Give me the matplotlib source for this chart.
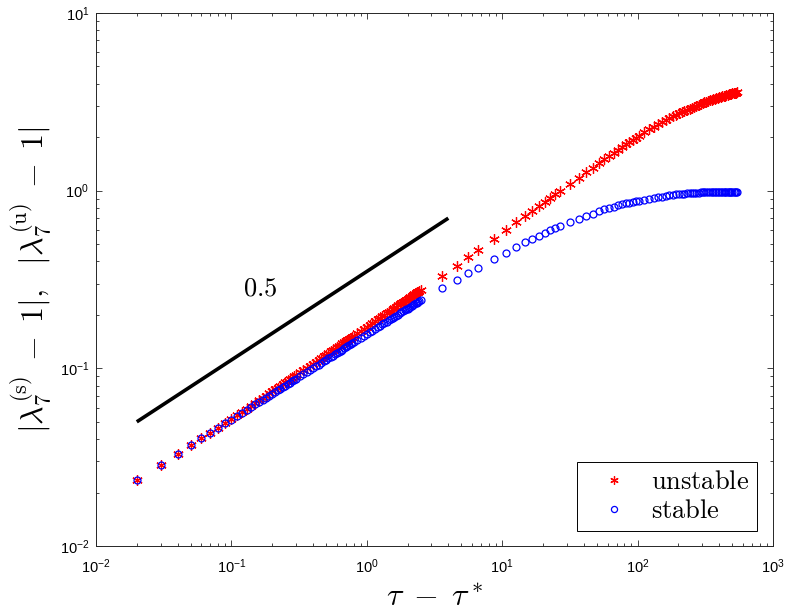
import matplotlib
matplotlib.use('Agg')
import matplotlib.pyplot as plt
from matplotlib.lines import Line2D
from matplotlib import ticker

plt.rcParams['font.family'] = ['Liberation Sans', 'DejaVu Sans']
plt.rcParams['mathtext.fontset'] = 'cm'

# tau - tau*
tau = [0.02, 0.03, 0.04, 0.05, 0.06, 0.07, 0.08, 0.09, 0.10,
       0.11, 0.12, 0.13, 0.14, 0.15, 0.16, 0.17, 0.18, 0.19, 0.20,
       0.21, 0.22, 0.23, 0.24, 0.25, 0.26, 0.27, 0.28, 0.29, 0.30,
       0.32, 0.34, 0.36, 0.38, 0.40, 0.42, 0.44, 0.46, 0.48, 0.50,
       0.52, 0.54, 0.56, 0.58, 0.60, 0.62, 0.64, 0.66, 0.68, 0.70,
       0.72, 0.74, 0.76, 0.78, 0.80,
       0.85, 0.90, 0.95, 1.00, 1.05, 1.10, 1.15, 1.20, 1.25, 1.30,
       1.35, 1.40, 1.45, 1.50, 1.55, 1.60, 1.65, 1.70, 1.75, 1.80,
       1.85, 1.90, 1.95, 2.00, 2.05, 2.10, 2.15, 2.20, 2.25, 2.30,
       2.35, 2.40, 2.45, 2.50,
       3.6, 4.6, 5.6, 6.6, 8.7, 10.7, 12.7, 14.7, 16.7, 18.7, 20.7, 22.7, 24.7, 26.8,
       31.8, 36.8, 41.8, 46.8, 51.8, 56.8, 61.8, 66.8, 71.8, 76.8, 81.8, 86.8, 91.8, 96.8, 101.8,
       111.8, 121.8, 131.8, 141.8, 151.8, 161.8, 171.8, 181.8, 191.8, 201.8,
       211.8, 221.8, 231.8, 241.8, 251.8, 261.8, 271.8, 281.8, 291.8, 301.8,
       311.8, 321.8, 331.8, 341.8, 351.8, 361.8, 371.8, 381.8, 391.8, 401.8,
       411.8, 421.8, 431.8, 441.8, 451.8, 461.8, 471.8, 481.8, 491.8, 501.8,
       511.8, 521.8, 531.8, 541.8]

# |lambda_7^(u) - 1|
unstable = [0.0236, 0.0287, 0.0331, 0.0369, 0.0403, 0.0434, 0.0464, 0.0491, 0.0518,
            0.0544, 0.0569, 0.0593, 0.0617, 0.0639, 0.0661, 0.0682, 0.0703, 0.0723, 0.0742,
            0.0761, 0.0780, 0.0798, 0.0816, 0.0834, 0.0851, 0.0868, 0.0884, 0.0900, 0.0916,
            0.0948, 0.0978, 0.1008, 0.1036, 0.1064, 0.1092, 0.1118, 0.1145, 0.1170, 0.1195,
            0.1220, 0.1244, 0.1268, 0.1291, 0.1314, 0.1337, 0.1359, 0.1381, 0.1402, 0.1424,
            0.1445, 0.1466, 0.1486, 0.1506, 0.1526,
            0.1575, 0.1623, 0.1669, 0.1714, 0.1758, 0.1801, 0.1843, 0.1884, 0.1925, 0.1964,
            0.2003, 0.2042, 0.2079, 0.2116, 0.2153, 0.2188, 0.2224, 0.2259, 0.2293, 0.2327,
            0.2360, 0.2393, 0.2426, 0.2458, 0.2489, 0.2521, 0.2552, 0.2583, 0.2613, 0.2643,
            0.2673, 0.2702, 0.2731, 0.2760,
            0.332, 0.379, 0.424, 0.465, 0.537, 0.600, 0.662, 0.716, 0.767, 0.821, 0.868, 0.915, 0.955, 0.996,
            1.093, 1.184, 1.269, 1.350, 1.427, 1.500, 1.571, 1.639, 1.704, 1.767, 1.827, 1.884, 1.938, 1.990, 2.038,
            2.131, 2.216, 2.295, 2.369, 2.438, 2.502, 2.562, 2.618, 2.672, 2.722,
            2.770, 2.815, 2.857, 2.898, 2.937, 2.975, 3.009, 3.043, 3.075, 3.107,
            3.136, 3.165, 3.191, 3.218, 3.243, 3.266, 3.290, 3.311, 3.334, 3.354,
            3.374, 3.393, 3.412, 3.429, 3.447, 3.463, 3.479, 3.495, 3.511, 3.524,
            3.539, 3.552, 3.565, 3.578]

# |lambda_7^(s) - 1|
stable = [0.0236, 0.0287, 0.0331, 0.0369, 0.0403, 0.0434, 0.0464, 0.0491, 0.0515,
          0.0540, 0.0563, 0.0585, 0.0606, 0.0626, 0.0646, 0.0665, 0.0683, 0.0701, 0.0719,
          0.0736, 0.0753, 0.0769, 0.0785, 0.0800, 0.0815, 0.0830, 0.0845, 0.0859, 0.0873,
          0.0901, 0.0927, 0.0953, 0.0978, 0.1003, 0.1026, 0.1050, 0.1072, 0.1094, 0.1116,
          0.1137, 0.1158, 0.1178, 0.1198, 0.1218, 0.1237, 0.1256, 0.1275, 0.1294, 0.1312,
          0.1330, 0.1347, 0.1364, 0.1382, 0.1398,
          0.1440, 0.1480, 0.1519, 0.1557, 0.1593, 0.1629, 0.1665, 0.1699, 0.1732, 0.1765,
          0.1798, 0.1829, 0.1860, 0.1891, 0.1921, 0.1951, 0.1980, 0.2008, 0.2036, 0.2064,
          0.2091, 0.2118, 0.2145, 0.2171, 0.2197, 0.2222, 0.2248, 0.2273, 0.2297, 0.2322,
          0.2346, 0.2370, 0.2393, 0.2417,
          0.283, 0.314, 0.342, 0.367, 0.411, 0.448, 0.481, 0.511, 0.535, 0.557, 0.577, 0.597, 0.615, 0.632,
          0.667, 0.696, 0.721, 0.743, 0.764, 0.784, 0.800, 0.814, 0.827, 0.838, 0.848, 0.857, 0.865, 0.872, 0.879,
          0.891, 0.902, 0.911, 0.919, 0.927, 0.935, 0.943, 0.948, 0.952, 0.956,
          0.960, 0.963, 0.966, 0.968, 0.970, 0.972, 0.974, 0.976, 0.978, 0.979,
          0.980, 0.981, 0.982, 0.982, 0.983, 0.983, 0.984, 0.984, 0.985, 0.985,
          0.985, 0.986, 0.986, 0.986, 0.986, 0.987, 0.987, 0.987, 0.988, 0.988,
          0.988, 0.988, 0.988, 0.988]

# slope-0.5 guide line
guide_x = [0.02, 4.0]
guide_y = [0.05, 0.70]

fig = plt.figure(figsize=(7.89, 6.12), dpi=100)
ax = fig.add_axes([0.1217, 0.1078, 0.858, 0.871])

asterisk = (6, 2, 0)
ax.plot(guide_x, guide_y, color='k', lw=2.6, solid_capstyle='butt')
ax.plot(tau, unstable, ls='none', marker=asterisk, mec='r', mfc='r', ms=7.6, mew=0.9)
ax.plot(tau, stable, ls='none', marker='o', mfc='none', mec='b', ms=5.0, mew=0.9)
ax.text(0.163, 0.28, r'$0.5$', fontsize=19, ha='center', va='center')

ax.set_xscale('log')
ax.set_yscale('log')
ax.set_xlim(1e-2, 1e3)
ax.set_ylim(1e-2, 1e1)
ax.xaxis.set_minor_formatter(ticker.NullFormatter())
ax.yaxis.set_minor_formatter(ticker.NullFormatter())
ax.tick_params(which='both', direction='in', top=True, right=True, labelsize=10.5, width=0.6, color='#262626')
ax.tick_params(which='major', length=4)
ax.tick_params(which='minor', length=2.3)
ax.tick_params(axis='x', pad=8)
ax.tick_params(axis='y', pad=5)
for s in ax.spines.values():
    s.set_linewidth(0.7)
    s.set_color('#262626')

ax.set_xlabel(r'$\tau\;-\;\tau^*$', fontsize=23, labelpad=5)
ax.set_ylabel(r'$|\lambda_7^{(\mathrm{s})}\;-\;1|,\ \ |\lambda_7^{(\mathrm{u})}\;-\;1|$', fontsize=23, labelpad=4)

handles = [Line2D([], [], ls='none', marker=asterisk, mec='r', mfc='r', ms=6.0, mew=0.9),
           Line2D([], [], ls='none', marker='o', mfc='none', mec='b', ms=4.4, mew=0.9)]
leg = ax.legend(handles, [r'$\mathrm{unstable}$', r'$\mathrm{stable}$'], loc='lower right',
                bbox_to_anchor=(0.976, 0.028), fontsize=19, frameon=True, fancybox=False,
                framealpha=1, edgecolor='k', handlelength=2.2, handletextpad=0.3,
                borderpad=0.3, labelspacing=0.2, borderaxespad=0)
leg.get_frame().set_linewidth(0.7)

fig.savefig('out.png', dpi=100)
